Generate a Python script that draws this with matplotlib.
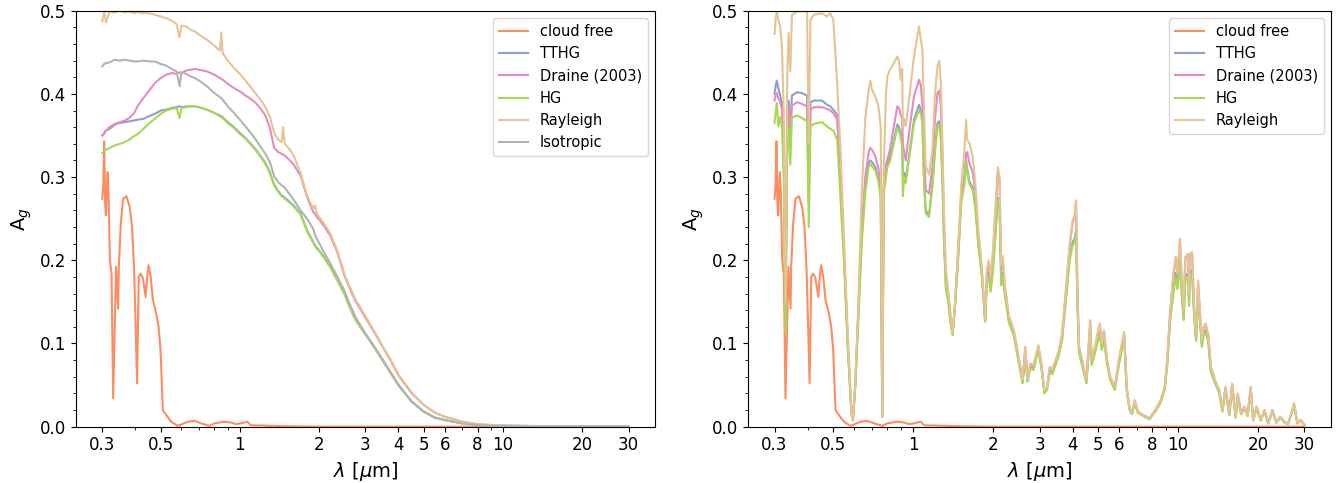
import matplotlib
matplotlib.use("Agg")
import matplotlib.pyplot as plt
from matplotlib.ticker import FixedLocator, FixedFormatter, NullFormatter, AutoMinorLocator

# ---- data ----
# cloud free spectrum (same in both panels)
lam_cf = [0.300, 0.3026, 0.305, 0.3075, 0.3097, 0.3144, 0.317, 0.3206, 0.3253, 0.330,
          0.3385, 0.3448, 0.3467, 0.3528, 0.360, 0.3707, 0.3815, 0.3894, 0.3963, 0.4009,
          0.4068, 0.4128, 0.420, 0.4285, 0.4385, 0.445, 0.450, 0.458, 0.4675, 0.4813,
          0.491, 0.4995, 0.5097, 0.525, 0.548, 0.581, 0.634, 0.672, 0.712, 0.766,
          0.800, 0.873, 0.925, 0.966, 1.009, 1.069, 1.100, 1.272, 1.5, 2.0, 30.0]
ag_cf = [0.274, 0.290, 0.343, 0.270, 0.254, 0.306, 0.280, 0.200, 0.184, 0.034,
         0.192, 0.142, 0.192, 0.244, 0.274, 0.277, 0.264, 0.240, 0.188, 0.132,
         0.052, 0.180, 0.184, 0.178, 0.156, 0.182, 0.194, 0.180, 0.152, 0.136,
         0.120, 0.092, 0.020, 0.014, 0.006, 0.001, 0.006, 0.007, 0.004, 0.001,
         0.004, 0.006, 0.005, 0.003, 0.004, 0.006, 0.0016, 0.0012, 0.0005, 0.0, 0.0]

# left panel: cloudy spectra
lam_l = [0.30, 0.305, 0.31, 0.32, 0.335, 0.35, 0.365, 0.38, 0.395, 0.41,
         0.43, 0.45, 0.475, 0.50, 0.525, 0.55, 0.575, 0.59, 0.60, 0.625,
         0.65, 0.675, 0.70, 0.75, 0.80, 0.84, 0.85, 0.86, 0.90, 0.95,
         1.0, 1.05, 1.1, 1.15, 1.2, 1.25, 1.3, 1.35, 1.40, 1.44,
         1.46, 1.48, 1.55, 1.6, 1.7, 1.8, 1.9, 1.93, 1.96, 2.0,
         2.1, 2.2, 2.35, 2.5, 2.6, 2.75, 3.0, 3.25, 3.5, 3.75,
         4.0, 4.5, 5.0, 5.5, 6.0, 7.0, 8.0, 9.0, 10, 12,
         15, 20, 25, 30]
tthg_l = [0.350, 0.353, 0.356, 0.358, 0.363, 0.365, 0.366, 0.367, 0.368, 0.369,
          0.370, 0.373, 0.376, 0.380, 0.381, 0.383, 0.384, 0.385, 0.384, 0.385,
          0.385, 0.385, 0.384, 0.381, 0.377, 0.374, 0.373, 0.372, 0.366, 0.360,
          0.353, 0.347, 0.340, 0.333, 0.325, 0.317, 0.306, 0.291, 0.283, 0.278,
          0.277, 0.275, 0.270, 0.266, 0.256, 0.236, 0.222, 0.218, 0.215, 0.212,
          0.203, 0.193, 0.176, 0.160, 0.146, 0.129, 0.111, 0.095, 0.079, 0.064,
          0.050, 0.030, 0.018, 0.011, 0.008, 0.004, 0.002, 0.0012, 0.0008, 0.0004,
          0.0002, 0.0001, 0.0, 0.0]
draine_l = [0.350, 0.352, 0.356, 0.360, 0.364, 0.366, 0.368, 0.371, 0.376, 0.386,
            0.395, 0.403, 0.413, 0.419, 0.423, 0.425, 0.424, 0.426, 0.425, 0.428,
            0.429, 0.430, 0.429, 0.427, 0.423, 0.419, 0.418, 0.417, 0.412, 0.407,
            0.403, 0.398, 0.394, 0.389, 0.382, 0.374, 0.359, 0.335, 0.330, 0.328,
            0.327, 0.326, 0.320, 0.315, 0.302, 0.276, 0.258, 0.256, 0.252, 0.249,
            0.240, 0.230, 0.209, 0.181, 0.168, 0.151, 0.131, 0.113, 0.095, 0.079,
            0.062, 0.040, 0.026, 0.017, 0.012, 0.006, 0.003, 0.002, 0.0015, 0.001,
            0.0005, 0.0002, 0.0001, 0.0]
hg_l = [0.329, 0.331, 0.333, 0.335, 0.338, 0.340, 0.342, 0.345, 0.349, 0.352,
        0.358, 0.364, 0.370, 0.376, 0.380, 0.382, 0.383, 0.371, 0.383, 0.384,
        0.385, 0.385, 0.384, 0.381, 0.377, 0.373, 0.372, 0.371, 0.365, 0.359,
        0.352, 0.346, 0.339, 0.332, 0.324, 0.316, 0.305, 0.290, 0.282, 0.277,
        0.276, 0.274, 0.269, 0.265, 0.255, 0.235, 0.221, 0.217, 0.214, 0.211,
        0.202, 0.192, 0.175, 0.159, 0.145, 0.128, 0.111, 0.095, 0.079, 0.064,
        0.050, 0.030, 0.018, 0.011, 0.008, 0.004, 0.002, 0.0012, 0.0008, 0.0004,
        0.0002, 0.0001, 0.0, 0.0]
rayleigh_l = [0.487, 0.499, 0.486, 0.499, 0.498, 0.500, 0.498, 0.499, 0.497, 0.498,
              0.497, 0.497, 0.495, 0.493, 0.491, 0.488, 0.484, 0.468, 0.482, 0.481,
              0.477, 0.475, 0.471, 0.465, 0.458, 0.452, 0.474, 0.449, 0.440, 0.431,
              0.424, 0.416, 0.408, 0.400, 0.393, 0.384, 0.373, 0.353, 0.345, 0.342,
              0.360, 0.340, 0.333, 0.326, 0.305, 0.278, 0.262, 0.266, 0.256, 0.252,
              0.243, 0.233, 0.211, 0.183, 0.170, 0.153, 0.133, 0.114, 0.096, 0.080,
              0.063, 0.041, 0.026, 0.017, 0.012, 0.006, 0.003, 0.002, 0.0015, 0.001,
              0.0005, 0.0002, 0.0001, 0.0]
iso_l = [0.433, 0.436, 0.437, 0.438, 0.441, 0.440, 0.441, 0.440, 0.439, 0.439,
         0.440, 0.439, 0.439, 0.436, 0.434, 0.430, 0.427, 0.409, 0.426, 0.424,
         0.421, 0.419, 0.416, 0.409, 0.401, 0.396, 0.395, 0.393, 0.385, 0.377,
         0.369, 0.361, 0.353, 0.345, 0.336, 0.328, 0.318, 0.301, 0.294, 0.290,
         0.289, 0.287, 0.279, 0.273, 0.260, 0.250, 0.238, 0.231, 0.226, 0.221,
         0.208, 0.197, 0.180, 0.163, 0.149, 0.132, 0.112, 0.096, 0.080, 0.065,
         0.051, 0.030, 0.018, 0.011, 0.008, 0.004, 0.002, 0.0012, 0.0008, 0.0004,
         0.0002, 0.0001, 0.0, 0.0]

# right panel: cloudy spectra
lam_r = [0.300, 0.303, 0.306, 0.310, 0.315, 0.320, 0.325, 0.330, 0.335, 0.339,
         0.344, 0.349, 0.365, 0.381, 0.398, 0.404, 0.410, 0.422, 0.453, 0.473,
         0.487, 0.500, 0.517, 0.532, 0.548, 0.567, 0.585, 0.593, 0.605, 0.620,
         0.640, 0.660, 0.680, 0.690, 0.700, 0.720, 0.740, 0.755, 0.765, 0.775,
         0.790, 0.800, 0.820, 0.847, 0.872, 0.885, 0.898, 0.910, 0.915, 0.925,
         0.938, 0.965, 1.008, 1.053, 1.070, 1.084, 1.100, 1.116, 1.149, 1.183,
         1.210, 1.236, 1.255, 1.273, 1.290, 1.310, 1.330, 1.360, 1.380, 1.410,
         1.440, 1.470, 1.520, 1.560, 1.585, 1.600, 1.630, 1.680, 1.720, 1.760,
         1.820, 1.850, 1.870, 1.900, 1.930, 1.960, 2.000, 2.050, 2.090, 2.120,
         2.150, 2.180, 2.220, 2.300, 2.400, 2.500, 2.590, 2.650, 2.700, 2.770,
         2.850, 2.900, 2.970, 3.050, 3.130, 3.200, 3.280, 3.350, 3.450, 3.550,
         3.650, 3.780, 3.900, 4.000, 4.070, 4.120, 4.170, 4.230, 4.350, 4.510,
         4.660, 4.720, 4.850, 4.970, 5.070, 5.150, 5.250, 5.400, 5.550, 5.770,
         6.000, 6.260, 6.400, 6.550, 6.700, 6.870, 7.050, 7.400, 7.800, 8.200,
         8.600, 8.900, 9.100, 9.320, 9.600, 9.800, 9.950, 10.17, 10.30, 10.50,
         10.65, 10.90, 11.00, 11.10, 11.30, 11.50, 11.70, 11.90, 12.10, 12.30,
         12.50, 12.70, 13.00, 13.30, 13.80, 14.30, 14.70, 15.10, 15.60, 16.00,
         16.50, 16.80, 17.30, 17.80, 18.30, 18.80, 19.20, 19.80, 20.50, 21.20,
         21.90, 22.70, 23.50, 24.30, 25.20, 26.00, 27.40, 28.20, 29.00, 30.00]
rayleigh_r = [0.472, 0.490, 0.499, 0.489, 0.481, 0.457, 0.380, 0.150, 0.420, 0.473,
              0.427, 0.495, 0.499, 0.500, 0.499, 0.340, 0.489, 0.495, 0.497, 0.493,
              0.497, 0.489, 0.413, 0.333, 0.232, 0.112, 0.020, 0.007, 0.052, 0.140,
              0.280, 0.370, 0.405, 0.416, 0.405, 0.397, 0.385, 0.360, 0.012, 0.310,
              0.400, 0.421, 0.430, 0.437, 0.445, 0.440, 0.417, 0.430, 0.360, 0.370,
              0.361, 0.393, 0.445, 0.481, 0.465, 0.453, 0.380, 0.313, 0.303, 0.333,
              0.400, 0.433, 0.440, 0.413, 0.340, 0.250, 0.190, 0.160, 0.140, 0.113,
              0.150, 0.200, 0.290, 0.330, 0.369, 0.345, 0.341, 0.325, 0.290, 0.240,
              0.190, 0.155, 0.130, 0.190, 0.200, 0.180, 0.210, 0.270, 0.312, 0.300,
              0.195, 0.205, 0.170, 0.133, 0.116, 0.085, 0.056, 0.096, 0.058, 0.076,
              0.074, 0.084, 0.098, 0.076, 0.044, 0.047, 0.072, 0.068, 0.080, 0.092,
              0.112, 0.168, 0.220, 0.248, 0.254, 0.272, 0.168, 0.096, 0.080, 0.056,
              0.128, 0.080, 0.096, 0.112, 0.124, 0.100, 0.116, 0.080, 0.060, 0.048,
              0.084, 0.114, 0.048, 0.024, 0.016, 0.032, 0.018, 0.014, 0.010, 0.020,
              0.032, 0.048, 0.080, 0.136, 0.184, 0.204, 0.184, 0.226, 0.184, 0.140,
              0.204, 0.208, 0.160, 0.208, 0.210, 0.144, 0.112, 0.176, 0.136, 0.104,
              0.120, 0.124, 0.112, 0.072, 0.056, 0.045, 0.020, 0.048, 0.015, 0.052,
              0.012, 0.040, 0.016, 0.024, 0.014, 0.048, 0.008, 0.024, 0.008, 0.020,
              0.004, 0.020, 0.005, 0.012, 0.006, 0.003, 0.028, 0.004, 0.008, 0.002]
draine_r = [0.392, 0.398, 0.401, 0.395, 0.390, 0.382, 0.330, 0.130, 0.355, 0.382,
            0.350, 0.386, 0.390, 0.388, 0.385, 0.270, 0.381, 0.384, 0.384, 0.382,
            0.380, 0.377, 0.369, 0.300, 0.210, 0.100, 0.018, 0.008, 0.050, 0.130,
            0.240, 0.300, 0.330, 0.335, 0.333, 0.325, 0.310, 0.290, 0.012, 0.290,
            0.315, 0.321, 0.335, 0.361, 0.385, 0.383, 0.375, 0.370, 0.340, 0.330,
            0.320, 0.353, 0.397, 0.417, 0.410, 0.385, 0.330, 0.285, 0.280, 0.313,
            0.370, 0.401, 0.404, 0.385, 0.330, 0.240, 0.180, 0.155, 0.135, 0.112,
            0.148, 0.195, 0.280, 0.300, 0.329, 0.330, 0.317, 0.305, 0.280, 0.235,
            0.185, 0.152, 0.128, 0.185, 0.195, 0.175, 0.205, 0.260, 0.305, 0.295,
            0.190, 0.200, 0.168, 0.132, 0.115, 0.084, 0.055, 0.095, 0.057, 0.075,
            0.073, 0.083, 0.097, 0.075, 0.043, 0.046, 0.071, 0.067, 0.079, 0.091,
            0.111, 0.166, 0.218, 0.245, 0.252, 0.270, 0.165, 0.095, 0.079, 0.055,
            0.126, 0.079, 0.095, 0.111, 0.122, 0.099, 0.115, 0.079, 0.059, 0.047,
            0.083, 0.112, 0.047, 0.023, 0.016, 0.031, 0.018, 0.014, 0.010, 0.020,
            0.031, 0.047, 0.079, 0.134, 0.182, 0.202, 0.182, 0.224, 0.182, 0.138,
            0.202, 0.206, 0.158, 0.206, 0.208, 0.142, 0.111, 0.174, 0.135, 0.103,
            0.119, 0.123, 0.110, 0.071, 0.055, 0.044, 0.020, 0.047, 0.015, 0.051,
            0.012, 0.039, 0.016, 0.024, 0.014, 0.047, 0.008, 0.024, 0.008, 0.020,
            0.004, 0.020, 0.005, 0.012, 0.006, 0.003, 0.027, 0.004, 0.008, 0.002]
tthg_r = [0.400, 0.410, 0.416, 0.407, 0.398, 0.390, 0.335, 0.130, 0.365, 0.392,
          0.360, 0.398, 0.402, 0.401, 0.398, 0.280, 0.390, 0.392, 0.392, 0.387,
          0.385, 0.381, 0.375, 0.305, 0.212, 0.100, 0.018, 0.008, 0.050, 0.130,
          0.230, 0.290, 0.318, 0.320, 0.318, 0.312, 0.298, 0.280, 0.012, 0.285,
          0.305, 0.316, 0.325, 0.345, 0.363, 0.360, 0.353, 0.345, 0.300, 0.305,
          0.297, 0.325, 0.369, 0.387, 0.380, 0.370, 0.300, 0.260, 0.255, 0.292,
          0.335, 0.365, 0.367, 0.350, 0.300, 0.220, 0.170, 0.150, 0.130, 0.111,
          0.146, 0.190, 0.275, 0.295, 0.320, 0.310, 0.295, 0.287, 0.265, 0.225,
          0.180, 0.150, 0.127, 0.180, 0.185, 0.165, 0.190, 0.240, 0.275, 0.265,
          0.175, 0.185, 0.160, 0.127, 0.111, 0.080, 0.053, 0.090, 0.055, 0.072,
          0.070, 0.080, 0.094, 0.072, 0.041, 0.045, 0.068, 0.065, 0.076, 0.088,
          0.106, 0.158, 0.205, 0.222, 0.226, 0.235, 0.150, 0.090, 0.075, 0.053,
          0.118, 0.076, 0.090, 0.104, 0.112, 0.094, 0.106, 0.076, 0.057, 0.045,
          0.079, 0.108, 0.045, 0.022, 0.015, 0.030, 0.017, 0.013, 0.009, 0.019,
          0.030, 0.045, 0.075, 0.128, 0.165, 0.185, 0.170, 0.200, 0.165, 0.130,
          0.180, 0.185, 0.150, 0.185, 0.188, 0.135, 0.105, 0.160, 0.128, 0.098,
          0.113, 0.116, 0.104, 0.067, 0.053, 0.042, 0.019, 0.045, 0.014, 0.049,
          0.011, 0.037, 0.015, 0.023, 0.013, 0.045, 0.008, 0.023, 0.008, 0.019,
          0.004, 0.019, 0.005, 0.011, 0.006, 0.003, 0.026, 0.004, 0.008, 0.002]
hg_r = [0.365, 0.378, 0.389, 0.361, 0.372, 0.360, 0.300, 0.112, 0.330, 0.360,
        0.315, 0.372, 0.374, 0.371, 0.367, 0.240, 0.361, 0.364, 0.366, 0.361,
        0.358, 0.356, 0.345, 0.275, 0.200, 0.095, 0.016, 0.008, 0.048, 0.120,
        0.220, 0.280, 0.312, 0.316, 0.313, 0.308, 0.295, 0.275, 0.012, 0.280,
        0.300, 0.312, 0.320, 0.341, 0.359, 0.355, 0.348, 0.335, 0.277, 0.300,
        0.293, 0.321, 0.365, 0.381, 0.375, 0.366, 0.290, 0.256, 0.252, 0.289,
        0.330, 0.361, 0.363, 0.345, 0.295, 0.215, 0.165, 0.148, 0.128, 0.110,
        0.145, 0.185, 0.270, 0.290, 0.318, 0.305, 0.292, 0.284, 0.260, 0.220,
        0.178, 0.148, 0.126, 0.175, 0.180, 0.162, 0.185, 0.235, 0.273, 0.260,
        0.170, 0.180, 0.158, 0.125, 0.109, 0.078, 0.052, 0.088, 0.054, 0.070,
        0.068, 0.078, 0.092, 0.070, 0.040, 0.044, 0.066, 0.063, 0.074, 0.086,
        0.104, 0.154, 0.200, 0.218, 0.222, 0.230, 0.148, 0.088, 0.073, 0.052,
        0.115, 0.074, 0.088, 0.102, 0.110, 0.092, 0.104, 0.074, 0.056, 0.044,
        0.077, 0.106, 0.044, 0.021, 0.015, 0.029, 0.017, 0.013, 0.009, 0.018,
        0.029, 0.044, 0.073, 0.125, 0.160, 0.180, 0.165, 0.195, 0.162, 0.128,
        0.175, 0.180, 0.145, 0.180, 0.183, 0.132, 0.103, 0.157, 0.125, 0.096,
        0.110, 0.113, 0.102, 0.065, 0.052, 0.040, 0.018, 0.044, 0.014, 0.048,
        0.011, 0.036, 0.015, 0.022, 0.013, 0.044, 0.007, 0.022, 0.007, 0.018,
        0.004, 0.018, 0.005, 0.011, 0.005, 0.003, 0.025, 0.004, 0.007, 0.002]

xticks = [0.3, 0.5, 1, 2, 3, 4, 5, 6, 8, 10, 20, 30]
xtick_labels = ["0.3", "0.5", "1", "2", "3", "4", "5", "6", "8", "10", "20", "30"]

colors = {
    "cloud free": "#fc8d62",
    "TTHG": "#8da0cb",
    "Draine (2003)": "#e78ac3",
    "HG": "#a6d854",
    "Rayleigh": "#e5c494",
    "Isotropic": "#b3b3b3",
}


def style_axis(ax):
    ax.set_xscale("log")
    ax.set_ylim(0, 0.5)
    ax.xaxis.set_major_locator(FixedLocator(xticks))
    ax.xaxis.set_major_formatter(FixedFormatter(xtick_labels))
    ax.xaxis.set_minor_formatter(NullFormatter())
    ax.yaxis.set_minor_locator(AutoMinorLocator(5))
    ax.tick_params(labelsize=12)
    ax.set_xlabel(r"$\lambda$ [$\mu$m]", fontsize=14)
    ax.set_ylabel(r"A$_g$", fontsize=14)
    ax.legend(loc="upper right", fontsize=10.5)


fig = plt.figure(figsize=(13.42, 4.83), dpi=100)
ax1 = fig.add_axes([0.0566, 0.1166, 0.4314, 0.8613])
ax2 = fig.add_axes([0.5574, 0.1166, 0.4344, 0.8613])

# left panel
ax1.plot(lam_cf, ag_cf, color=colors["cloud free"], label="cloud free")
ax1.plot(lam_l, tthg_l, color=colors["TTHG"], label="TTHG")
ax1.plot(lam_l, draine_l, color=colors["Draine (2003)"], label="Draine (2003)")
ax1.plot(lam_l, hg_l, color=colors["HG"], label="HG")
ax1.plot(lam_l, rayleigh_l, color=colors["Rayleigh"], label="Rayleigh")
ax1.plot(lam_l, iso_l, color=colors["Isotropic"], label="Isotropic")
style_axis(ax1)

# right panel
ax2.plot(lam_cf, ag_cf, color=colors["cloud free"], label="cloud free")
ax2.plot(lam_r, tthg_r, color=colors["TTHG"], label="TTHG")
ax2.plot(lam_r, draine_r, color=colors["Draine (2003)"], label="Draine (2003)")
ax2.plot(lam_r, hg_r, color=colors["HG"], label="HG")
ax2.plot(lam_r, rayleigh_r, color=colors["Rayleigh"], label="Rayleigh")
style_axis(ax2)

fig.savefig("out.png", dpi=100)
